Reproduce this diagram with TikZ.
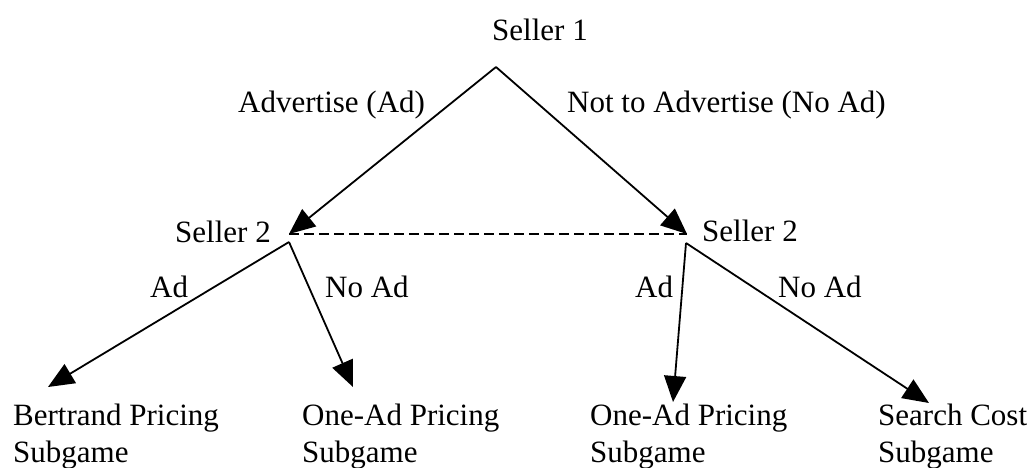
\documentclass[tikz,border=0pt]{standalone}
\usepackage{fontspec}
\setmainfont{Liberation Serif}
\usetikzlibrary{arrows.meta}
\begin{document}
\begin{tikzpicture}[x=1pt,y=-1pt,
  lbl/.style={inner sep=0pt,anchor=base west,font=\fontsize{31}{37}\selectfont,align=left},
  edge/.style={line width=1.8pt},
  arr/.style={edge,-{Triangle[length=26pt,width=22pt]}},
  info/.style={line width=1.8pt,dash pattern=on 10pt off 5pt}]
\useasboundingbox (0,0) rectangle (1034,467);
% decision points
\coordinate (apex) at (496,67);
\coordinate (s2L) at (289,234);
\coordinate (s2R) at (687,234);
\coordinate (jL) at (289,242);
\coordinate (jR) at (686,243);
% terminal tips
\coordinate (tBert) at (48,387);
\coordinate (tOneL) at (353,387);
\coordinate (tOneR) at (673,402);
\coordinate (tSearch) at (929,403);
% labels
\node[lbl] (seller1) at (492,40) {Seller 1};
\node[lbl] (adv) at (238,112) {Advertise (Ad)};
\node[lbl] (noadv) at (567,112) {Not to Advertise (No Ad)};
\node[lbl] (s2Ltext) at (175,242) {Seller 2};
\node[lbl] (s2Rtext) at (702,241) {Seller 2};
\node[lbl] (adL) at (150,297) {Ad};
\node[lbl] (noadL) at (325,297) {No Ad};
\node[lbl] (adR) at (635,297) {Ad};
\node[lbl] (noadR) at (778,297) {No Ad};
\node[lbl] (bert) at (13,462) {Bertrand Pricing\\Subgame};
\node[lbl] (oneL) at (302,462) {One-Ad Pricing\\Subgame};
\node[lbl] (oneR) at (590,462) {One-Ad Pricing\\Subgame};
\node[lbl] (search) at (878,462) {Search Cost\\Subgame};
% edges
\draw[arr] (apex) -- (s2L);
\draw[arr] (apex) -- (s2R);
\draw[info] (s2L) -- (s2R);
\draw[arr] (jL) -- (tBert);
\draw[arr] (jL) -- (tOneL);
\draw[arr] (jR) -- (tOneR);
\draw[arr] (jR) -- (tSearch);
\end{tikzpicture}
\end{document}
